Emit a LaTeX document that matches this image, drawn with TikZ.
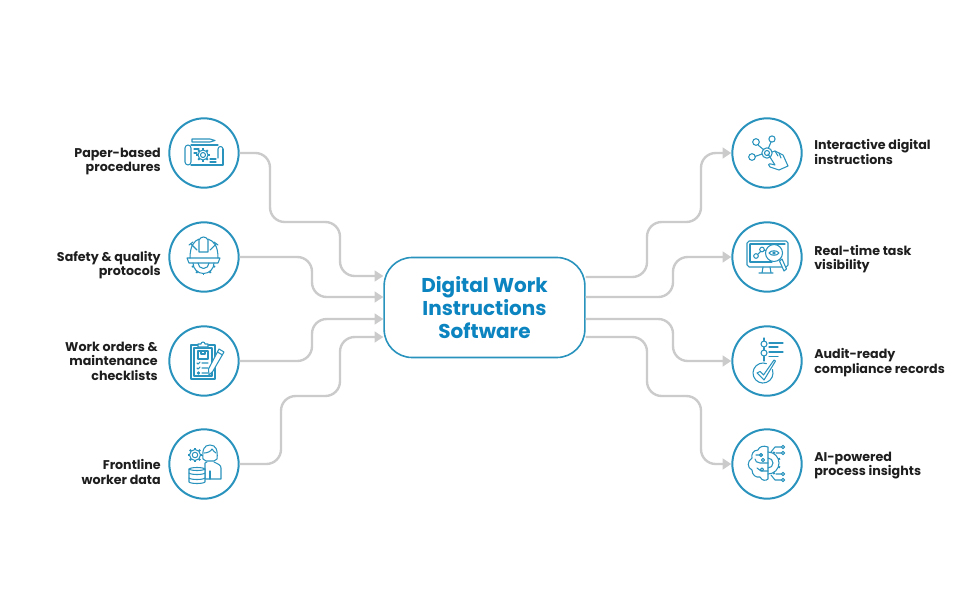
\documentclass[tikz,border=0pt]{standalone}
\usepackage{fontspec}
\usepackage{xcolor}
\usetikzlibrary{arrows.meta}
\setmainfont{Poppins}
\definecolor{ringblue}{HTML}{2A93BD}
\definecolor{hubblue}{HTML}{0B84C0}
\definecolor{linkgray}{HTML}{CBCBCB}
\definecolor{labelink}{HTML}{1E1E1E}
\tikzset{
    ring/.style = {draw=ringblue, fill=white, line width=1.5pt, circle, minimum size=52pt, inner sep=0pt},
    hub-box/.style = {draw=ringblue, fill=white, line width=1.2pt, rectangle, rounded corners=21pt, minimum width=150.5pt, minimum height=75pt, align=center, inner sep=0pt, text=hubblue, font=\fontsize{15}{17.3}\selectfont\bfseries},
    left-label/.style = {anchor=east, align=right, inner sep=0pt, text=labelink, font=\fontsize{9.5}{10.9}\selectfont\bfseries},
    right-label/.style = {anchor=west, align=left, inner sep=0pt, text=labelink, font=\fontsize{9.5}{10.9}\selectfont\bfseries},
    link/.style = {draw=linkgray, line width=1.8pt, rounded corners=11pt},
    link-in/.style = {link, -{Triangle[length=6.5pt,width=8pt]}},
    icon/.style = {draw=ringblue, line width=0.8pt, line cap=round, line join=round},
}
% gear: x, y, radius
\newcommand{\gearmark}[3]{
    \draw[icon] (#1,#2) circle[radius=#3];
    \draw[icon] (#1,#2) circle[radius=#3*0.5];
    \foreach \ang in {0,45,...,315}
        \draw[icon, line width=1.4pt, line cap=butt] (#1,#2) ++(\ang:#3) -- ++(\ang:1.8);
}
\begin{document}
\begin{tikzpicture}[x=0.75pt, y=-0.75pt]
\useasboundingbox (0,0) rectangle (960,614);

% circles
\node[ring] (left1) at (204,153) {};
\node[ring] (left2) at (204,257) {};
\node[ring] (left3) at (204,361) {};
\node[ring] (left4) at (204,464) {};
\node[ring] (right1) at (767,153) {};
\node[ring] (right2) at (767,257) {};
\node[ring] (right3) at (767,361) {};
\node[ring] (right4) at (767,464) {};

% centre box
\node[hub-box] (hub) at (484.5,307.5) {Digital Work\\Instructions\\Software};

% labels
\node[left-label] (text-left1) at (161,161.5) {Paper-based\\procedures};
\node[left-label] (text-left2) at (161,265) {Safety \& quality\\protocols};
\node[left-label] (text-left3) at (158,361) {Work orders \&\\maintenance\\checklists};
\node[left-label] (text-left4) at (161,472) {Frontline\\worker data};
\node[right-label] (text-right1) at (814,152) {Interactive digital\\instructions};
\node[right-label] (text-right2) at (814,259) {Real-time task\\visibility};
\node[right-label] (text-right3) at (814,362.5) {Audit-ready\\compliance records};
\node[right-label] (text-right4) at (814,465.5) {AI-powered\\process insights};

% ends on the centre box
\coordinate (inA) at (hub.west |- 0,276);
\coordinate (inB) at (hub.west |- 0,297);
\coordinate (inC) at (hub.west |- 0,319);
\coordinate (inD) at (hub.west |- 0,337);
\coordinate (outA) at (hub.east |- 0,277);
\coordinate (outB) at (hub.east |- 0,297);
\coordinate (outC) at (hub.east |- 0,319);
\coordinate (outD) at (hub.east |- 0,337);

% connectors
\draw[link-in] (left1.east) -| (270,222) -| (340,276) -- (inA);
\draw[link-in] (left2.east) -| (312,297) -- (inB);
\draw[link-in] (left3.east) -| (312,319) -- (inC);
\draw[link-in] (left4.east) -| (281,396) -| (340,337) -- (inD);
\draw[link-in] (outA) -| (647,222) -| (701,153) -- (right1.west);
\draw[link-in] (outB) -| (673,257) -- (right2.west);
\draw[link-in] (outC) -| (673,361) -- (right3.west);
\draw[link-in] (outD) -| (647,396) -| (701,464) -- (right4.west);

% icon: blueprint
\draw[icon] (192,139) -- (210,139) -- (215,140.5) -- (210,142) -- (192,142) -- cycle;
\draw[icon] (191,145) -- (218,145) (191,165) -- (223,165) -- (223,149);
\draw[icon] (191,148) -- (191,162) (185,162) -- (185,148) arc(180:360:3) (185,162) arc(180:0:3);
\draw[icon] (218,149) -- (218,158) (218,149) arc(180:360:2.5);
\draw[icon] (194,149) -- (199,149) (194,153) -- (197,153) (210,159) -- (216,159) (210,162) -- (216,162);
\gearmark{203}{155}{5}

% icon: helmet
\draw[icon] (190,258) .. controls (190,246) and (194,241) .. (199,239) (218,258) .. controls (218,246) and (214,241) .. (208,239);
\draw[icon] (199,252) -- (199,240) .. controls (201,236) and (206,236) .. (208,240) -- (208,252) -- cycle;
\draw[icon] (187,258) -- (220,258) -- (218,263) -- (189,263) -- cycle;
\draw[icon] (191,244) -- (197,250) (216,244) -- (210,250);
\draw[icon] (189,245) -- (193,242) (218,245) -- (214,242);
\draw[icon] (193,263) arc(180:0:10.5);
\draw[icon] (198,263) arc(180:0:5.5);
\foreach \ang in {18,54,90,126,162}
    \draw[icon, line width=1.4pt, line cap=butt] (203.5,263) ++(\ang:10.5) -- ++(\ang:1.8);

% icon: clipboard
\draw[icon, line width=0.9pt] (191,345) rectangle (215,379);
\draw[icon] (194,348) rectangle (212,376);
\draw[icon, fill=white] (198,347) -- (198,344) -- (201,344) arc(180:360:2) -- (208,344) -- (208,347) -- cycle;
\draw[icon] (198,351) rectangle (208,359) (201,351) -- (201,354) -- (205,354) -- (205,351);
\draw[icon] (197,363) -- (198,364) -- (200,362) (202,363) -- (208,363);
\draw[icon] (197,368) -- (198,369) -- (200,367) (202,368) -- (208,368);
\draw[icon] (198.5,373) circle[radius=1.2] (202,373) -- (208,373);
\draw[icon, fill=white] (219,349) -- (224,352) -- (213,371) -- (209,375) -- (208.5,369) -- cycle;
\draw[icon] (217.5,352) -- (222.5,355);

% icon: person with gear and data
\gearmark{195}{455}{5.5}
\draw[icon] (203,459) .. controls (202,450) and (204,445) .. (210,445) .. controls (216,445) and (218,450) .. (217,459) -- (214,461) -- (206,461) -- cycle;
\draw[icon] (204,453) .. controls (208,453) and (211,451) .. (212,449) .. controls (213,451) and (215,452) .. (216,453);
\draw[icon] (205,463) -- (205,479) -- (221,479) -- (221,468) .. controls (221,465) and (218,464) .. (214,462) (205,463) -- (207,462);
\draw[icon] (210,471) -- (210,479);
\draw[icon, fill=white] (189,469) -- (189,482) .. controls (191,484) and (203,484) .. (205,482) -- (205,469) .. controls (203,467) and (191,467) .. (189,469) -- cycle;
\draw[icon] (189,473) .. controls (191,475) and (203,475) .. (205,473);
\draw[icon] (189,478) .. controls (191,480) and (203,480) .. (205,478);
\draw[icon] (189,469) .. controls (191,471) and (203,471) .. (205,469);

% icon: network with hand
\draw[icon] (756,142) circle[radius=3.3] (772,139) circle[radius=3.1] (752,157) circle[radius=3.3];
\draw[icon] (758,145) -- (764,150) (771,142) -- (768.5,148) (755,156.5) -- (762,154);
\draw[icon] (767,153) circle[radius=5.2] (767,153) circle[radius=2.5];
\draw[icon] (768,154) -- (775,165) -- (771,164) .. controls (768,163) and (768,166) .. (770,167) -- (779,170) -- (788,166) -- (783,155) -- (775,151) -- (772,152);
\draw[icon] (775,151) -- (778,156) (779,153) -- (781,158);

% icon: monitor with magnifier
\draw[icon] (749,241) -- (786,241) -- (788,243) -- (788,265) -- (786,267) -- (749,267) -- (747,265) -- (747,243) -- cycle;
\draw[icon] (750,244) -- (785,244) (750,244) -- (750,262) -- (772,262);
\draw[icon] (763,267) -- (762,273) (770,267) -- (771,273) (759,273) -- (773,273);
\draw[icon] (756,256) circle[radius=2.3] (762,249.5) circle[radius=2.3] (758,254) -- (760.5,251.5) (764,250) -- (767,251);
\draw[icon, fill=white] (774,253) circle[radius=8.5];
\draw[icon] (769,253) .. controls (771,250) and (777,250) .. (779,253) .. controls (777,256) and (771,256) .. (769,253) -- cycle;
\draw[icon] (774,253) circle[radius=1.2];
\draw[icon, fill=white] (779.5,261) -- (782,259) -- (786.5,269) -- (784,271) -- cycle;

% icon: audit check
\draw[icon] (764,338) -- (764,340.5) (764,347.5) -- (764,350) (764,356.5) -- (764,361);
\draw[icon] (764,344) circle[radius=3] (764,353) circle[radius=3];
\draw[icon] (769,343) -- (783,343) (769,347) -- (778,347) (769,352) -- (783,352) (769,356.5) -- (778,356.5);
\draw[icon] (772.4,369.6) arc(-20:290:10);
\draw[icon, fill=white] (757,373) -- (760,371.5) -- (763.5,375) -- (774,360) -- (775.5,361) -- (764,380) -- cycle;

% icon: brain and circuit
\draw[icon] (768,447) .. controls (763,445) and (759,447) .. (758,450) .. controls (753,450) and (751,455) .. (752,458) .. controls (747,461) and (747,468) .. (752,470) .. controls (752,475) and (756,478) .. (760,477) .. controls (762,481) and (766,481) .. (768,479) -- cycle;
\draw[icon] (762,455) -- (756,455) (768,463) -- (760,463) .. controls (757,463) and (755,461) .. (755,459) (768,471) -- (761,471) -- (757,468);
\draw[icon] (761,455) circle[radius=1.6] (762,469.5) circle[radius=1.6] (763,460) circle[radius=1.6];
\draw[icon] (768,452) arc(-90:90:11);
\draw[icon] (768,458) arc(-90:90:5);
\foreach \ang in {60,20,-20,-60}
    \draw[icon, line width=1.4pt, line cap=butt] (768,463) ++(\ang:11) -- ++(\ang:1.8);
\draw[icon] (771,452) -- (775,447) -- (781,447) (776,453) -- (781,453) (776,474) -- (781,474) (771,475) -- (775,480) -- (781,480);
\draw[icon] (783,447) circle[radius=1.7] (783,453) circle[radius=1.7] (783,474) circle[radius=1.7] (783,480) circle[radius=1.7];
\end{tikzpicture}
\end{document}
